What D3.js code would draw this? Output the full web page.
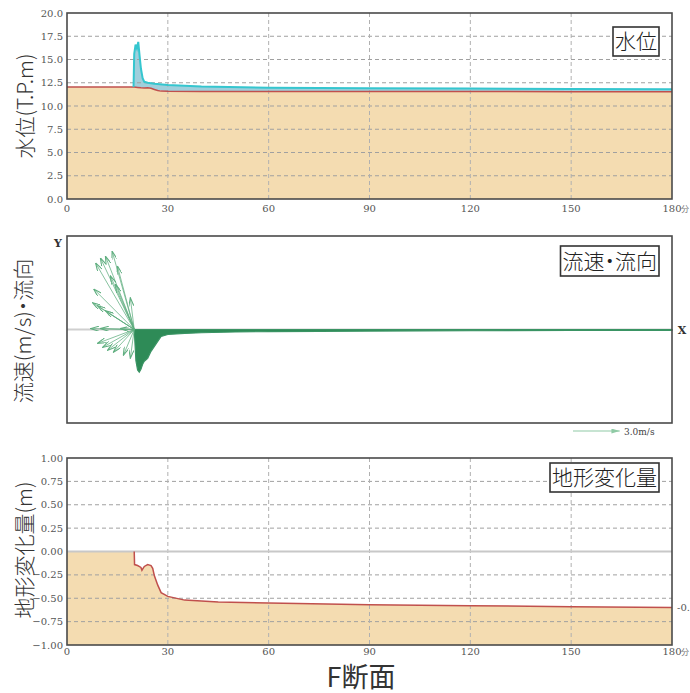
<!DOCTYPE html>
<html><head><meta charset="utf-8">
<script src="https://cdn.jsdelivr.net/npm/d3@7"></script>
<style>body{margin:0;background:#fff;} svg{display:block;} .pal{font-feature-settings:"palt" 1;}</style>
</head><body><svg id="c" width="690" height="693"></svg>
<script>
// ---------- data ----------
const xTicks = [0, 30, 60, 90, 120, 150, 180];
const levelTicks = [0, 2.5, 5, 7.5, 10, 12.5, 15, 17.5, 20];
const changeTicks = [-1, -0.75, -0.5, -0.25, 0, 0.25, 0.5, 0.75, 1];

// 水位 panel: bed elevation and water surface (T.P.m) vs minutes
const bedTimes = [0, 20, 21, 22, 23, 24, 25, 26, 27, 28, 30, 40, 60, 90, 120, 150, 180];
const bedLevel = [12.05, 12.05, 12.0, 11.95, 11.93, 11.95, 11.9, 11.78, 11.66, 11.6, 11.58, 11.57, 11.56, 11.55, 11.55, 11.54, 11.53];
const waterTimes = [19.8, 20.0, 20.4, 20.8, 21.2, 21.6, 22.0, 22.5, 23, 24, 26, 30, 40, 60, 90, 120, 150, 180];
const waterLevel = [12.05, 15.6, 16.6, 16.2, 16.9, 15.4, 14.0, 13.0, 12.6, 12.5, 12.4, 12.26, 12.1, 11.95, 11.9, 11.87, 11.84, 11.8];

// 流速・流向 panel: early flow vectors at t=20 min (u east, v north, m/s)
const fanTime = 20;
const fanU = [-1.42, -1.85, -2.17, -2.48, -1.08, -1.53, -0.25, -2.68, -2.36, -1.85, -2.8, -2.17, -0.89, -2.36, -2.04, -1.72, -1.34, -0.7, -0.25, -2.6, -1.2];
const fanV = [5.03, 4.71, 4.59, 4.27, 4.08, 3.44, 2.04, 1.72, 1.53, 1.21, 0.06, 0.06, 0.06, -0.89, -1.15, -1.34, -1.46, -1.66, -1.85, 2.6, 2.9];
// later flow (v component, m/s) along time
const flowTimes = [20, 20.5, 21, 21.5, 22, 22.5, 23, 24, 25, 26, 27, 28, 30, 35, 40, 50, 60, 90, 120, 150, 180];
const flowV = [0, -2.0, -2.6, -2.74, -2.55, -2.23, -2.04, -1.85, -1.4, -1.08, -0.76, -0.45, -0.32, -0.25, -0.21, -0.16, -0.13, -0.1, -0.08, -0.06, -0.06];
const legendSpeed = 3.0;

// 地形変化量 panel (m)
const changeTimes = [0, 20, 20.1, 21, 22, 22.3, 23, 24, 25, 25.5, 26, 27, 28, 30, 35, 45, 60, 90, 120, 150, 180];
const changeValues = [0, 0, -0.14, -0.15, -0.17, -0.2, -0.16, -0.14, -0.15, -0.18, -0.26, -0.36, -0.44, -0.48, -0.52, -0.54, -0.55, -0.57, -0.58, -0.59, -0.6];
const endChangeLabel = "-0.60";

// ---------- layout ----------
const svg = d3.select("#c");
const L = 67, R = 672;
const P1 = {top: 13, bottom: 199};
const P2 = {top: 236, bottom: 423};
const P3 = {top: 458, bottom: 645};
const tan = "#f4dcb1", red = "#c0504d", gridC = "#a0a0a0", frameC = "#4a4a4a";
const serif = "'DejaVu Serif', serif";
const cjk = "'Noto Sans CJK JP', 'Noto Sans', sans-serif";

const x = d3.scaleLinear().domain([0, 180]).range([L, R]);

function grid(g, y, yTicks, top, bottom) {
  g.selectAll(".hg").data(yTicks.slice(1, -1)).enter().append("line")
    .attr("x1", L).attr("x2", R).attr("y1", d => y(d)).attr("y2", d => y(d))
    .attr("stroke", gridC).attr("stroke-width", 1).attr("stroke-dasharray", "4,3");
  g.selectAll(".vg").data(xTicks.slice(1, -1)).enter().append("line")
    .attr("x1", d => x(d)).attr("x2", d => x(d)).attr("y1", top).attr("y2", bottom)
    .attr("stroke", "#b0b0b0").attr("stroke-width", 1).attr("stroke-dasharray", "4,3");
}
function yLabels(g, y, ticks, fmt) {
  g.selectAll(".yl").data(ticks).enter().append("text")
    .attr("x", 63).attr("y", d => y(d) + 3.5).attr("text-anchor", "end")
    .attr("font-family", serif).attr("font-size", 10).attr("fill", "#555").text(d => fmt(d));
}
function xLabels(g, yb) {
  g.selectAll(".xl").data(xTicks).enter().append("text")
    .attr("x", d => x(d)).attr("y", yb).attr("text-anchor", "middle")
    .attr("font-family", serif).attr("font-size", 10).attr("fill", "#555").text(d => d);
  g.append("text").attr("x", 681).attr("y", yb).attr("font-family", cjk)
    .attr("font-size", 8).attr("fill", "#777").text("分");
}
function frame(g, top, bottom) {
  g.append("rect").attr("x", L).attr("y", top).attr("width", R - L).attr("height", bottom - top)
    .attr("fill", "none").attr("stroke", frameC).attr("stroke-width", 1.6);
}
function boxLabel(g, text, xr, yTop, h) {
  const bg = g.append("rect");
  const t = g.append("text").attr("class", "pal").attr("x", xr - 2).attr("y", yTop + h - 7).attr("text-anchor", "end")
    .attr("font-family", cjk).attr("font-weight", 300).attr("font-size", 21).attr("fill", "#222").text(text);
  const bb = t.node().getBBox();
  bg.attr("x", bb.x - 2).attr("y", yTop).attr("width", xr - bb.x + 2).attr("height", h)
    .attr("fill", "#fff").attr("stroke", "#333").attr("stroke-width", 1.6);
}
function yTitle(g, text, cx, cy) {
  g.append("text").attr("class", "pal").attr("transform", `translate(${cx},${cy}) rotate(-90)`)
    .attr("text-anchor", "middle").attr("dominant-baseline", "central")
    .attr("font-family", cjk).attr("font-weight", 300).attr("font-size", 21).attr("fill", "#333").text(text);
}

// ---------- panel 1: 水位 ----------
{
  const g = svg.append("g");
  const y = d3.scaleLinear().domain([0, 20]).range([P1.bottom, P1.top]);
  const bed = bedTimes.map((t, i) => [t, bedLevel[i]]);
  const bedAt = t => {
    const i = d3.bisectLeft(bedTimes, t);
    if (i <= 0) return bedLevel[0];
    if (i >= bedTimes.length) return bedLevel[bedLevel.length - 1];
    const t0 = bedTimes[i - 1], t1 = bedTimes[i];
    return bedLevel[i - 1] + (bedLevel[i] - bedLevel[i - 1]) * (t - t0) / (t1 - t0);
  };
  g.append("path").datum(bed)
    .attr("d", d3.area().x(d => x(d[0])).y0(y(0)).y1(d => y(d[1])))
    .attr("fill", tan);
  const water = waterTimes.map((t, i) => [t, waterLevel[i], bedAt(t)]);
  g.append("path").datum(water)
    .attr("d", d3.area().x(d => x(d[0])).y0(d => y(d[2])).y1(d => y(d[1])))
    .attr("fill", "#9fcfdc");
  grid(g, y, levelTicks, P1.top, P1.bottom);
  g.append("path").datum(bed)
    .attr("d", d3.line().x(d => x(d[0])).y(d => y(d[1])))
    .attr("fill", "none").attr("stroke", red).attr("stroke-width", 1.5);
  g.append("path").datum(water)
    .attr("d", d3.line().x(d => x(d[0])).y(d => y(d[1])))
    .attr("fill", "none").attr("stroke", "#35c6cf").attr("stroke-width", 2);
  frame(g, P1.top, P1.bottom);
  yLabels(g, y, levelTicks, d3.format(".1f"));
  xLabels(g, 212);
  boxLabel(g, "水位", 659, 27, 29);
  yTitle(g, "水位(T.P.m)", 24, 106);
}

// ---------- panel 2: 流速・流向 ----------
{
  const g = svg.append("g");
  const yV = d3.scaleLinear().domain([-6, 6]).range([P2.bottom, P2.top]);
  const k = yV(0) - yV(1); // px per m/s
  svg.append("defs").html(
    `<marker id="ah" viewBox="0 0 10 6" refX="10" refY="3" markerWidth="9" markerHeight="5" markerUnits="userSpaceOnUse" orient="auto">
       <path d="M0,0 L10,3 L0,6" fill="none" stroke="#5fae7f" stroke-width="1.3"/></marker>
     <marker id="ah2" viewBox="0 0 10 6" refX="10" refY="3" markerWidth="9" markerHeight="5" markerUnits="userSpaceOnUse" orient="auto">
       <path d="M0,0 L10,3 L0,6 Z" fill="#8fcaa5" stroke="none"/></marker>`);
  g.append("line").attr("x1", L).attr("x2", R).attr("y1", yV(0)).attr("y2", yV(0))
    .attr("stroke", "#cfcfcf").attr("stroke-width", 2);
  const flow = flowTimes.map((t, i) => [t, flowV[i]]);
  g.append("path").datum(flow)
    .attr("d", d3.area().x(d => x(d[0])).y0(yV(0)).y1(d => yV(d[1])))
    .attr("fill", "#2e8b57").attr("stroke", "#3a9464").attr("stroke-width", 1.2);
  const ox = x(fanTime), oy = yV(0);
  g.selectAll(".fan").data(fanU.map((u, i) => [u, fanV[i]])).enter().append("line")
    .attr("x1", ox).attr("y1", oy)
    .attr("x2", d => ox + d[0] * k).attr("y2", d => yV(d[1]))
    .attr("stroke", "#5fae7f").attr("stroke-opacity", 0.75).attr("stroke-width", 1)
    .attr("marker-end", "url(#ah)");
  frame(g, P2.top, P2.bottom);
  g.append("text").attr("x", 58).attr("y", 247).attr("text-anchor", "middle")
    .attr("font-family", serif).attr("font-weight", "bold").attr("font-size", 11).attr("fill", "#333").text("Y");
  g.append("text").attr("x", 682).attr("y", 334).attr("text-anchor", "middle")
    .attr("font-family", serif).attr("font-weight", "bold").attr("font-size", 11).attr("fill", "#333").text("X");
  // legend arrow
  g.append("line").attr("x1", 573).attr("x2", 573 + legendSpeed * k).attr("y1", 431).attr("y2", 431)
    .attr("stroke", "#8fcaa5").attr("stroke-width", 1.2).attr("marker-end", "url(#ah2)");
  g.append("text").attr("x", 624).attr("y", 434.5).attr("font-family", serif).attr("font-size", 9)
    .attr("fill", "#444").text(legendSpeed.toFixed(1) + "m/s");
  boxLabel(g, "流速・流向", 659, 246, 30);
  yTitle(g, "流速(m/s)・流向", 22, 331);
}

// ---------- panel 3: 地形変化量 ----------
{
  const g = svg.append("g");
  const y = d3.scaleLinear().domain([-1, 1]).range([P3.bottom, P3.top]);
  const ch = changeTimes.map((t, i) => [t, changeValues[i]]);
  g.append("path").datum(ch)
    .attr("d", d3.area().x(d => x(d[0])).y0(y(-1)).y1(d => y(d[1])))
    .attr("fill", tan);
  grid(g, y, changeTicks.filter(d => d !== 0), P3.top, P3.bottom);
  g.append("line").attr("x1", L).attr("x2", R).attr("y1", y(0)).attr("y2", y(0))
    .attr("stroke", "#c8c8c8").attr("stroke-width", 2);
  g.append("path").datum(ch.filter(d => d[0] >= 20))
    .attr("d", d3.line().x(d => x(d[0])).y(d => y(d[1])))
    .attr("fill", "none").attr("stroke", red).attr("stroke-width", 1.5);
  frame(g, P3.top, P3.bottom);
  yLabels(g, y, changeTicks, d3.format(".2f"));
  xLabels(g, 655);
  g.append("text").attr("x", 677).attr("y", y(changeValues[changeValues.length - 1]) + 3.5)
    .attr("font-family", serif).attr("font-size", 10).attr("fill", "#555").text(endChangeLabel);
  boxLabel(g, "地形変化量", 659, 463, 29);
  yTitle(g, "地形変化量(m)", 23, 550);
}

// title
svg.append("text").attr("x", 361).attr("y", 686.5).attr("text-anchor", "middle")
  .attr("font-family", cjk).attr("font-size", 27).attr("fill", "#333").text("F断面");
</script></body></html>
